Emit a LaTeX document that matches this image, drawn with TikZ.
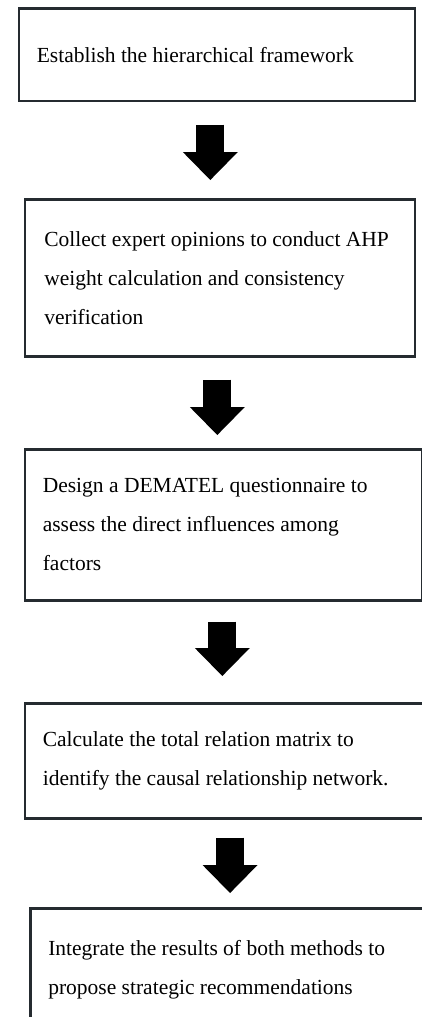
\documentclass[tikz,border=0pt]{standalone}
\usepackage{fontspec}
\setmainfont{Liberation Serif}
\usetikzlibrary{arrows.meta}
\definecolor{edgecol}{RGB}{37,43,48}

\begin{document}
\begin{tikzpicture}[
  x=1pt, y=-1pt,
  every node/.style={font=\fontsize{21.5}{39}\selectfont},
  box/.style={draw=edgecol, line width=2.6pt, anchor=north west, align=flush left, inner xsep=18pt, inner ysep=0pt},
  arr/.style={-{Triangle[length=28pt, width=55pt, line width=0pt]}, line width=28pt, black}
]
\useasboundingbox (0,0) rectangle (422,1017);

% ---------------- steps ----------------
\node[box, minimum width=396pt, minimum height=92.5pt, text width=360pt] (est) at (17.5,7)
  {Establish the hierarchical framework};
\node[box, minimum width=390pt, minimum height=157pt, text width=351pt] (ahp) at (23.5,198)
  {Collect expert opinions to conduct AHP\\ weight calculation and consistency\\ verification};
\node[box, minimum width=396.5pt, minimum height=151pt, text width=361.5pt] (dem) at (23.5,448)
  {Design a DEMATEL questionnaire to\\ assess the direct influences among\\ factors};
\node[box, minimum width=420pt, minimum height=115pt, text width=385pt] (trm) at (23.5,702)
  {Calculate the total relation matrix to\\ identify the causal relationship network.};
\node[box, minimum width=420pt, minimum height=123pt, text width=386pt] (rec) at (29,907)
  {Integrate the results of both methods to\\ propose strategic recommendations};

% ---------------- arrows ----------------
\draw[arr, shorten <=22.5pt, shorten >=18pt] ([xshift=-6.5pt]est.south) -- ([xshift=-6.5pt]est.south |- ahp.north);
\draw[arr, shorten <=22pt, shorten >=13pt] ([xshift=-2.5pt]ahp.south) -- ([xshift=-2.5pt]ahp.south |- dem.north);
\draw[arr, shorten <=20pt, shorten >=26pt] ([xshift=-1.25pt]dem.south) -- ([xshift=-1.25pt]dem.south |- trm.north);
\draw[arr, shorten <=18pt, shorten >=14pt] ([xshift=-5.25pt]trm.south) -- ([xshift=-5.25pt]trm.south |- rec.north);

\end{tikzpicture}
\end{document}
